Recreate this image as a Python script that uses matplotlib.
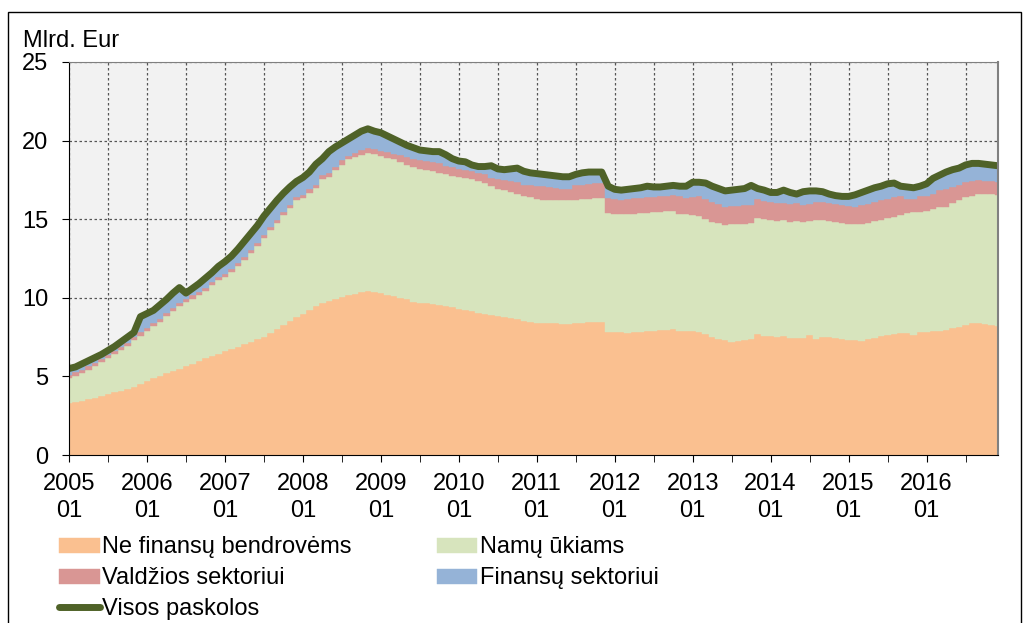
import numpy as np
import matplotlib.pyplot as plt
from matplotlib.patches import Rectangle

plt.rcParams['font.family'] = ['Liberation Sans', 'DejaVu Sans']

# %% Data (mlrd. EUR, monthly 2005-01 .. 2016-12), stacked levels
years = [str(y) for y in range(2005, 2017)]

ne_fin_top = [3.33, 3.38, 3.45, 3.55, 3.65, 3.75, 3.88, 3.98, 4.08, 4.2, 4.32, 4.5,
              4.7, 4.88, 5.05, 5.2, 5.35, 5.5, 5.65, 5.8, 6.0, 6.15, 6.3, 6.45,
              6.6, 6.75, 6.9, 7.05, 7.2, 7.35, 7.5, 7.75, 8.0, 8.3, 8.55, 8.8,
              9.0, 9.2, 9.45, 9.7, 9.8, 9.9, 10.05, 10.15, 10.25, 10.35, 10.42, 10.38,
              10.3, 10.2, 10.1, 10.0, 9.9, 9.75, 9.65, 9.65, 9.6, 9.55, 9.45, 9.4,
              9.3, 9.25, 9.15, 9.05, 9.0, 8.9, 8.85, 8.75, 8.7, 8.65, 8.5, 8.48,
              8.42, 8.4, 8.38, 8.38, 8.35, 8.35, 8.4, 8.42, 8.45, 8.45, 8.45, 7.85,
              7.82, 7.8, 7.78, 7.8, 7.85, 7.88, 7.9, 7.92, 7.95, 8.0, 7.9, 7.88,
              7.9, 7.85, 7.7, 7.5, 7.4, 7.3, 7.22, 7.25, 7.3, 7.35, 7.7, 7.6,
              7.55, 7.5, 7.55, 7.45, 7.42, 7.45, 7.62, 7.4, 7.52, 7.48, 7.42, 7.36,
              7.32, 7.3, 7.27, 7.36, 7.45, 7.55, 7.62, 7.68, 7.75, 7.78, 7.65, 7.85,
              7.85, 7.88, 7.9, 7.92, 8.05, 8.15, 8.25, 8.38, 8.38, 8.35, 8.25, 8.22]

namu_top = [4.88, 5.05, 5.22, 5.43, 5.64, 5.9, 6.15, 6.42, 6.68, 6.95, 7.3, 7.6,
            7.87, 8.19, 8.48, 8.82, 9.14, 9.46, 9.71, 9.95, 10.15, 10.43, 10.79, 11.13,
            11.34, 11.66, 12.02, 12.4, 12.87, 13.3, 13.82, 14.31, 14.78, 15.27, 15.73, 16.2,
            16.37, 16.69, 16.96, 17.58, 17.7, 18.1, 18.45, 18.8, 18.95, 19.1, 19.2, 19.15,
            19.05, 18.9, 18.8, 18.65, 18.45, 18.35, 18.2, 18.15, 18.05, 17.95, 17.85, 17.75,
            17.7, 17.65, 17.55, 17.45, 17.3, 17.1, 16.95, 16.85, 16.75, 16.6, 16.45, 16.4,
            16.3, 16.25, 16.25, 16.2, 16.2, 16.2, 16.25, 16.3, 16.3, 16.35, 16.35, 15.4,
            15.35, 15.3, 15.3, 15.35, 15.4, 15.4, 15.45, 15.45, 15.5, 15.55, 15.35, 15.3,
            15.25, 15.2, 15.0, 14.8, 14.75, 14.65, 14.7, 14.7, 14.72, 14.75, 15.1, 15.0,
            14.95, 14.9, 14.92, 14.85, 14.9, 14.8, 14.9, 14.95, 14.95, 14.9, 14.85, 14.78,
            14.72, 14.68, 14.7, 14.78, 14.9, 14.95, 15.05, 15.15, 15.25, 15.4, 15.45, 15.48,
            15.55, 15.65, 15.75, 15.8, 16.0, 16.2, 16.4, 16.5, 16.6, 16.62, 16.58, 16.55]

valdz_top = [5.08, 5.25, 5.42, 5.63, 5.84, 6.1, 6.35, 6.62, 6.88, 7.15, 7.5, 7.8,
             8.07, 8.39, 8.68, 9.02, 9.34, 9.66, 9.91, 10.15, 10.35, 10.63, 10.99, 11.33,
             11.54, 11.86, 12.22, 12.6, 13.07, 13.5, 14.02, 14.51, 14.98, 15.47, 15.93, 16.4,
             16.57, 16.89, 17.16, 17.8, 17.92, 18.35, 18.75, 19.0, 19.2, 19.4, 19.5, 19.45,
             19.35, 19.25, 19.15, 19.1, 18.95, 18.85, 18.75, 18.7, 18.65, 18.6, 18.4, 18.3,
             18.2, 18.15, 18.05, 17.95, 17.85, 17.65, 17.55, 17.5, 17.45, 17.35, 17.2, 17.15,
             17.1, 17.1, 17.05, 17.0, 16.95, 16.95, 17.15, 17.2, 17.25, 17.3, 17.3, 16.35,
             16.3, 16.25, 16.3, 16.35, 16.35, 16.4, 16.4, 16.45, 16.5, 16.55, 16.45, 16.35,
             16.4, 16.45, 16.3, 16.1, 15.95, 15.8, 15.85, 15.85, 15.9, 15.9, 16.3, 16.15,
             16.1, 16.05, 16.0, 15.95, 16.0, 15.9, 15.95, 16.1, 16.1, 16.05, 15.95, 15.9,
             15.85, 15.8, 15.9, 15.95, 16.1, 16.25, 16.3, 16.4, 16.45, 16.3, 16.3, 16.45,
             16.5, 16.6, 16.85, 16.95, 17.05, 17.2, 17.35, 17.45, 17.5, 17.45, 17.4, 17.38]

visos = [5.5, 5.6, 5.8, 6.0, 6.2, 6.4, 6.65, 6.9, 7.2, 7.5, 7.8, 8.8,
         9.0, 9.2, 9.55, 9.9, 10.3, 10.65, 10.3, 10.6, 10.9, 11.25, 11.6, 12.0,
         12.3, 12.65, 13.1, 13.6, 14.1, 14.6, 15.2, 15.7, 16.2, 16.65, 17.05, 17.4,
         17.65, 18.0, 18.5, 18.85, 19.3, 19.6, 19.85, 20.1, 20.35, 20.6, 20.75, 20.6,
         20.5, 20.3, 20.1, 19.9, 19.7, 19.55, 19.4, 19.35, 19.3, 19.3, 19.1, 18.85,
         18.7, 18.65, 18.45, 18.35, 18.35, 18.4, 18.2, 18.15, 18.2, 18.25, 18.05, 17.95,
         17.9, 17.85, 17.8, 17.75, 17.7, 17.7, 17.85, 17.95, 18.0, 18.0, 18.0, 17.1,
         16.9, 16.85, 16.9, 16.95, 17.0, 17.1, 17.05, 17.05, 17.1, 17.15, 17.1, 17.1,
         17.35, 17.35, 17.3, 17.1, 16.95, 16.8, 16.85, 16.9, 16.95, 17.15, 16.95, 16.85,
         16.7, 16.7, 16.85, 16.7, 16.6, 16.75, 16.8, 16.8, 16.75, 16.6, 16.5, 16.45,
         16.45, 16.55, 16.7, 16.85, 17.0, 17.1, 17.25, 17.3, 17.1, 17.05, 17.0, 17.1,
         17.25, 17.6, 17.8, 18.0, 18.15, 18.25, 18.45, 18.55, 18.55, 18.5, 18.45, 18.4]

# %% Segments of the stack
ne_fin = np.array(ne_fin_top)
namu = np.array(namu_top) - ne_fin
valdz = np.array(valdz_top) - np.array(namu_top)
finans = np.array(visos) - np.array(valdz_top)
x = np.arange(len(visos))

# %% Plot
fs = 17
fig = plt.figure(figsize=(10.25, 6.23), dpi=100)
ax = fig.add_axes([69 / 1025, 1 - 455 / 623, 929 / 1025, 393 / 623])
ax.set_facecolor('#f2f2f2')

c_nf, c_hh, c_gov, c_fin, c_tot = '#FAC090', '#D7E4BD', '#D99694', '#95B3D7', '#4F6228'
b1 = ax.bar(x, ne_fin, width=1.0, color=c_nf, edgecolor=c_nf, linewidth=0.3)
b2 = ax.bar(x, namu, width=1.0, bottom=ne_fin, color=c_hh, edgecolor=c_hh, linewidth=0.3)
b3 = ax.bar(x, valdz, width=1.0, bottom=np.array(namu_top), color=c_gov, edgecolor=c_gov, linewidth=0.3)
b4 = ax.bar(x, finans, width=1.0, bottom=np.array(valdz_top), color=c_fin, edgecolor=c_fin, linewidth=0.3)
ln, = ax.plot(x, visos, color=c_tot, lw=5, solid_capstyle='butt')

ax.set_xlim(0, len(visos) - 1)
ax.set_ylim(0, 25)
ax.set_yticks(range(0, 26, 5))
ax.set_xticks(range(0, len(visos), 12))
ax.set_xticklabels([y + '\n01' for y in years])
ax.set_xticks(range(6, len(visos), 12), minor=True)
ax.tick_params(axis='both', which='both', direction='out', length=5, labelsize=fs, color='black')
ax.tick_params(axis='y', pad=10)
ax.tick_params(axis='x', pad=8)
for t in ax.get_xticklabels():
    t.set_linespacing(1.3)

ax.set_axisbelow(True)
ax.grid(True, which='both', axis='x', linestyle=(0, (2, 2)), color='#555555', linewidth=0.9)
ax.grid(True, which='major', axis='y', linestyle=(0, (2, 2)), color='#555555', linewidth=0.9)
ax.spines['left'].set_color('black')
ax.spines['bottom'].set_color('black')
ax.spines['top'].set_color('#808080')
ax.spines['right'].set_color('#808080')
ax.spines['right'].set_linewidth(1.5)

fig.text(23 / 1025, 1 - 41 / 623, 'Mlrd. Eur', fontsize=fs, va='center', ha='left')

# outer frame
fig.patches.append(Rectangle((8 / 1025, -0.05), 1013 / 1025, 1 - 12 / 623 + 0.05,
                             transform=fig.transFigure, fill=False, edgecolor='black', linewidth=1))

handles = [b1, b3, ln, b2, b4]
labels = ['Ne finansų bendrovėms', 'Valdžios sektoriui', 'Visos paskolos', 'Namų ūkiams', 'Finansų sektoriui']
leg = fig.legend(handles, labels, ncol=2, loc='upper left', bbox_to_anchor=(50 / 1025, 1 - 527 / 623),
                 frameon=False, fontsize=fs, handlelength=1.7, handleheight=0.6, handletextpad=0.12,
                 columnspacing=3.6, labelspacing=0.38, borderaxespad=0)
leg.get_lines()[0].set_solid_capstyle('round')

plt.savefig('out.png', dpi=100)
